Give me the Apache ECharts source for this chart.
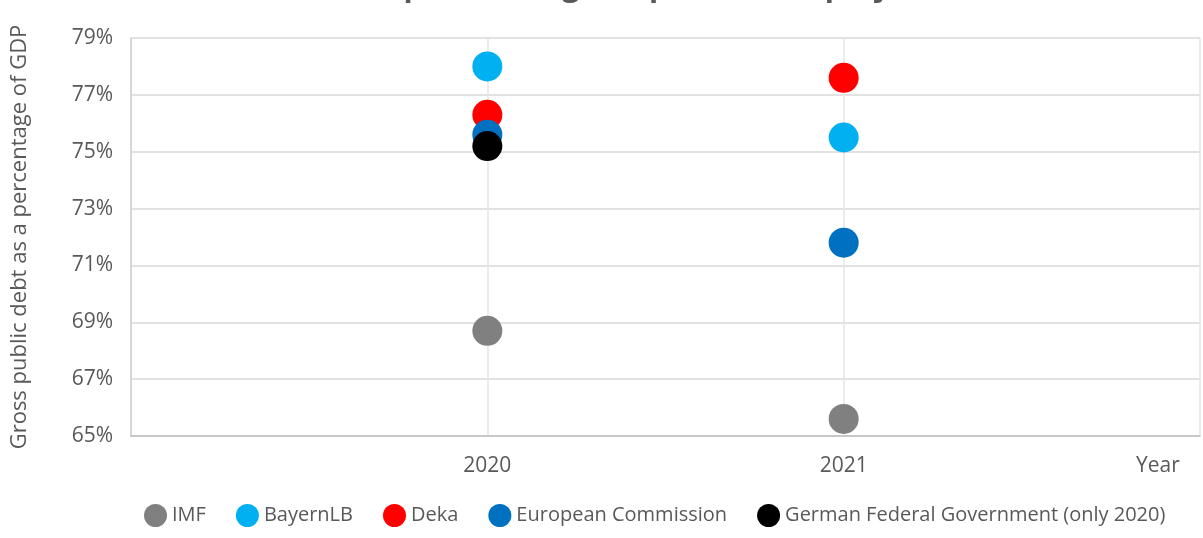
<!DOCTYPE html>
<html lang="en">
<head>
	<meta charset="utf-8">
	<title>Gross public debt projections</title>
	<script src="https://cdn.jsdelivr.net/npm/echarts@6/dist/echarts.min.js"></script>
	<style>
		html, body { margin: 0; padding: 0; background: #fff; overflow: hidden; }
		#chart { width: 1203px; height: 538px; }
	</style>
</head>
<body>
<div id="chart"></div>
<script>
    // values
    var years = [2020, 2021];
    var imf = [68.7, 65.6];
    var bayernLB = [78.0, 75.5];
    var deka = [76.3, 77.6];
    var euCommission = [75.6, 71.8];
    var federalGov = [75.2];
    var yTicks = [65, 67, 69, 71, 73, 75, 77, 79];

    var font = "'Open Sans', sans-serif";
    var grey = '#595959';

    function pts(vals) {
        return vals.map(function (v, i) { return [years[i], v]; });
    }

    function dots(name, vals, color) {
        return {
            name: name,
            type: 'scatter',
            symbol: 'circle',
            symbolSize: 30,
            itemStyle: { color: color, opacity: 1 },
            data: pts(vals)
        };
    }

    var chart = echarts.init(document.getElementById('chart'));
    chart.setOption({
        animation: false,
        textStyle: { fontFamily: font },
        title: {
            text: 'Comparison of gross public debt projections',
            left: 660,
            textAlign: 'center',
            top: -33,
            textStyle: { fontFamily: font, fontSize: 30, fontWeight: 'bold', color: grey }
        },
        legend: {
            left: 139,
            bottom: 6,
            width: 1064,
            icon: 'circle',
            itemWidth: 23,
            itemHeight: 23,
            itemGap: 30,
            textStyle: { fontFamily: font, fontSize: 20, color: grey },
            data: ['IMF', 'BayernLB', 'Deka', 'European Commission', 'German Federal Government (only 2020)']
        },
        // plot runs just past the window so the 2022 grid line falls outside
        grid: { left: 131, width: 1076, top: 38, bottom: 102, containLabel: false },
        xAxis: {
            type: 'value',
            min: 2019,
            max: 2022,
            interval: 1,
            name: 'Year',
            nameLocation: 'end',
            nameGap: -64,
            nameTextStyle: { fontFamily: font, fontSize: 21, color: grey, verticalAlign: 'top', padding: [20, 0, 0, 0] },
            axisLine: { lineStyle: { color: '#bfbfbf', width: 1.5 } },
            axisTick: { show: false },
            axisLabel: {
                fontFamily: font, fontSize: 21, color: grey, margin: 20,
                formatter: function (v) { return years.indexOf(v) >= 0 ? String(v) : ''; }
            },
            splitLine: { show: true, lineStyle: { color: '#e5e5e5', width: 1.5 } }
        },
        yAxis: {
            type: 'value',
            min: yTicks[0],
            max: yTicks[yTicks.length - 1],
            interval: 2,
            name: 'Gross public debt as a percentage of GDP',
            nameLocation: 'middle',
            nameGap: 100,
            nameTextStyle: { fontFamily: font, fontSize: 22, color: grey },
            axisLine: { show: true, lineStyle: { color: '#d0d0d0', width: 1.5 } },
            axisTick: { show: false },
            axisLabel: { fontFamily: font, fontSize: 21, color: grey, margin: 18, formatter: '{value}%' },
            splitLine: { lineStyle: { color: '#d9d9d9', width: 1.5 } }
        },
        series: [
            dots('IMF', imf, '#808080'),
            dots('BayernLB', bayernLB, '#00b0f0'),
            dots('Deka', deka, '#ff0000'),
            dots('European Commission', euCommission, '#0070c0'),
            dots('German Federal Government (only 2020)', federalGov, '#000000')
        ]
    });
</script>
</body>
</html>
